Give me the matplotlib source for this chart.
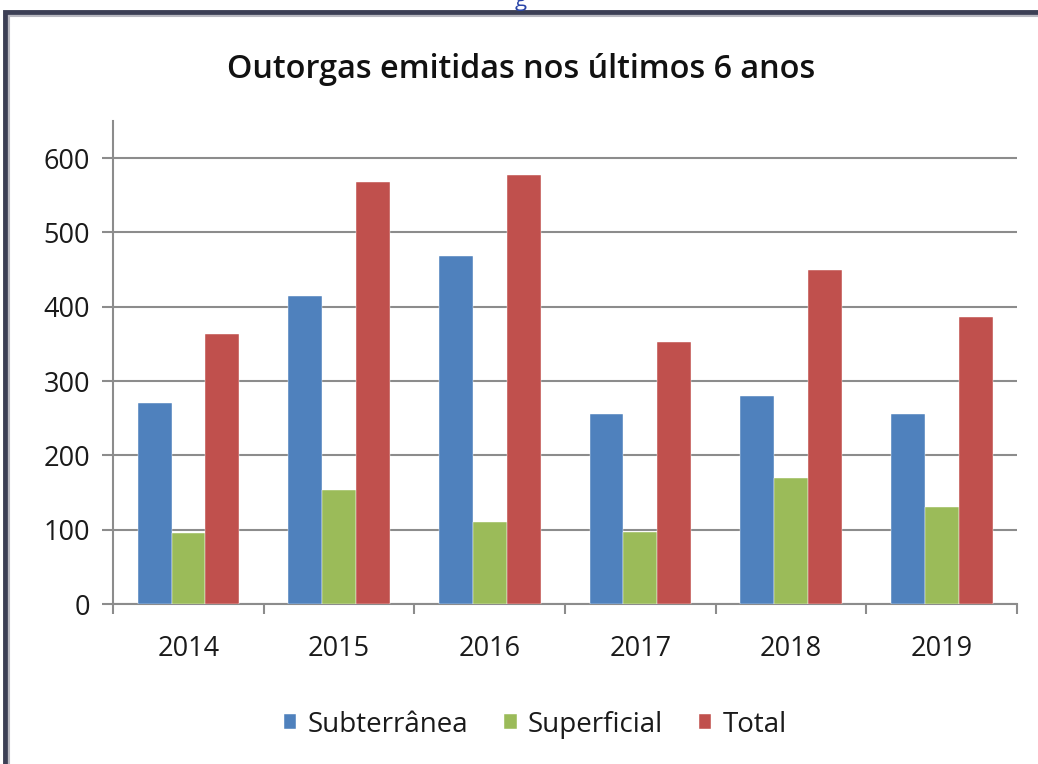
import numpy as np
import matplotlib.pyplot as plt
from matplotlib.patches import Rectangle

plt.rcParams['font.family'] = ['Open Sans', 'DejaVu Sans']

anos = ['2014', '2015', '2016', '2017', '2018', '2019']
subterranea = [270, 414, 468, 256, 280, 256]
superficial = [95, 154, 110, 97, 169, 130]
total = [364, 568, 577, 353, 449, 386]

series = [('Subterrânea', subterranea, '#4F81BD'),
          ('Superficial', superficial, '#9BBB59'),
          ('Total', total, '#C0504D')]

fig = plt.figure(figsize=(10.38, 7.64), dpi=100)
ax = fig.add_axes([0.109, 0.2094, 0.8708, 0.6322])

x = np.arange(len(anos))
bw = 0.225
for i, (nome, vals, cor) in enumerate(series):
    ax.bar(x + (i - 1) * bw, vals, bw, color=cor, label=nome, zorder=3,
           edgecolor='white', linewidth=0.3)

ax.set_xlim(-0.5, len(anos) - 0.5)
ax.set_ylim(0, 650)
ax.set_yticks(range(0, 601, 100))
ax.yaxis.grid(True, color='#8c8c8c', linewidth=1.5, zorder=0)

ax.set_xticks(np.arange(-0.5, len(anos), 1.0))
ax.set_xticklabels([])
ax.set_xticks(x, minor=True)
ax.set_xticklabels(anos, minor=True)
ax.tick_params(axis='x', which='major', length=7, color='#8c8c8c', width=1.5)
ax.tick_params(axis='x', which='minor', length=0, pad=22, labelsize=19.5, labelcolor='#1a1a1a')
ax.tick_params(axis='y', length=8, color='#8c8c8c', width=1.5, pad=8.5,
               labelsize=19.5, labelcolor='#1a1a1a')

for s in ['top', 'right']:
    ax.spines[s].set_visible(False)
for s in ['left', 'bottom']:
    ax.spines[s].set_color('#8c8c8c')
    ax.spines[s].set_linewidth(1.5)

fig.text(0.502, 0.909, 'Outorgas emitidas nos últimos 6 anos', ha='center', va='center',
         fontsize=23.3, fontweight='semibold', color='#111111')

ax.legend(loc='center', bbox_to_anchor=(0.467, -0.25), ncol=3, frameon=False,
          fontsize=20, handlelength=0.45, handleheight=0.45, handletextpad=0.4,
          columnspacing=1.3, labelcolor='#1a1a1a')

# moldura
fig.add_artist(Rectangle((5 / 1038, -0.05), 1.2, 1 - 12 / 764 + 0.05,
                         transform=fig.transFigure, fill=False,
                         edgecolor='#3c3f55', linewidth=3.5))
fig.add_artist(Rectangle((9 / 1038, -0.05), 1.2, 1 - 16 / 764 + 0.05,
                         transform=fig.transFigure, fill=False,
                         edgecolor='#b8b8c0', linewidth=1.5))
fig.text(0.502, 0.992, 'g', ha='center', va='baseline', fontsize=16, color='#2a45a8')

fig.savefig('out.png', dpi=100)
